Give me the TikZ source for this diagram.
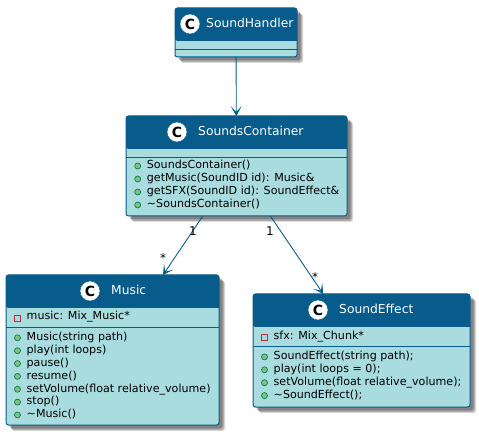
\documentclass[tikz,border=0pt]{standalone}
\usepackage{fontspec}
\setmainfont{DejaVu Sans}
\usetikzlibrary{arrows.meta,shadows}
\definecolor{headblue}{HTML}{075C8B}
\definecolor{bodyteal}{HTML}{A9DCDF}
\definecolor{dotgreen}{HTML}{84BE84}
\definecolor{dotedge}{HTML}{038048}
\definecolor{privred}{HTML}{C82930}

\begin{document}
\begin{tikzpicture}[
    x=1pt, y=-1pt,
    classbox/.style={rectangle, draw=headblue, fill=bodyteal, line width=1pt, rounded corners=2.5pt, inner sep=0pt, outer sep=0pt,
        drop shadow={shadow xshift=6pt, shadow yshift=-6pt, fill=black, opacity=0.15},
        drop shadow={shadow xshift=5pt, shadow yshift=-5pt, fill=black, opacity=0.2},
        drop shadow={shadow xshift=3.5pt, shadow yshift=-3.5pt, fill=black, opacity=0.25}},
    headfill/.style={path picture={\fill[headblue] (path picture bounding box.north west) rectangle ++(300,#1);}},
    sepline/.style={draw=headblue, line width=0.8pt},
    spot/.style={circle, fill=white, draw=headblue, line width=0.5pt, minimum size=20pt, inner sep=0pt, font=\fontsize{14}{14}\selectfont\bfseries},
    titletext/.style={anchor=west, inner sep=0pt, text=white, font=\fontsize{12.3}{14}\selectfont, text height=9.5pt, text depth=2.5pt},
    member/.style={anchor=west, inner sep=0pt, font=\fontsize{11.1}{13}\selectfont, text height=8pt, text depth=2.5pt},
    pubdot/.style={circle, fill=dotgreen, draw=dotedge, line width=0.7pt, minimum size=6pt, inner sep=0pt},
    privbox/.style={rectangle, draw=privred, line width=0.8pt, minimum size=6pt, inner sep=0pt},
    assoc/.style={draw=headblue, line width=0.9pt, -{Stealth[length=10pt,width=11pt,inset=6pt]}},
    multi/.style={inner sep=0pt, font=\fontsize{12}{13}\selectfont}
]
    \useasboundingbox (0,0) rectangle (479,435);

    % class bodies
    \node[classbox, headfill=33, minimum width=122pt, minimum height=49pt] (sh) at (236,32.5) {};
    \node[classbox, headfill=33, minimum width=221pt, minimum height=100pt] (sc) at (236.5,166) {};
    \node[classbox, headfill=33, minimum width=213pt, minimum height=150pt] (mu) at (112.5,350) {};
    \node[classbox, headfill=33, minimum width=217pt, minimum height=113pt] (se) at (361.5,350.5) {};

    % compartments
    \draw[sepline] (sh.west |- 0,49) -- (sh.east |- 0,49);
    \draw[sepline] (sc.west |- 0,157) -- (sc.east |- 0,157);
    \draw[sepline] (mu.west |- 0,327) -- (mu.east |- 0,327);
    \draw[sepline] (se.west |- 0,346) -- (se.east |- 0,346);

    % titles
    \node[spot] (shc) at (190,24) {C};
    \node[titletext] (sht) at (206,24) {SoundHandler};
    \node[spot] (scc) at (177,132) {C};
    \node[titletext] (sct) at (198,132) {SoundsContainer};
    \node[spot] (muc) at (90,291) {C};
    \node[titletext] (mut) at (111,291) {Music};
    \node[spot] (sec) at (318,310) {C};
    \node[titletext] (set) at (339,310) {SoundEffect};

    % members
    \foreach \txt [count=\i] in {SoundsContainer(), getMusic(SoundID id): Music\&, getSFX(SoundID id): SoundEffect\&, \textasciitilde SoundsContainer()} {
        \node[pubdot] (scd\i) at (137.7,153+13*\i) {};
        \node[member] (scm\i) at (146.7,153+13*\i) {\txt};
    }

    \node[privbox] (mup) at (17.5,318) {};
    \node[member] (muf) at (26.5,317) {music: Mix\_Music*};
    \foreach \txt [count=\i] in {Music(string path), play(int loops), pause(), resume(), setVolume(float relative\_volume), stop(), \textasciitilde Music()} {
        \node[pubdot] (mud\i) at (17.5,325+12.85*\i) {};
        \node[member] (mum\i) at (26.5,325+12.85*\i) {\txt};
    }

    \node[privbox] (sep) at (264.5,337) {};
    \node[member] (sef) at (273.5,337) {sfx: Mix\_Chunk*};
    \foreach \txt [count=\i] in {SoundEffect(string path);, play(int loops = 0);, setVolume(float relative\_volume);, \textasciitilde SoundEffect();} {
        \node[pubdot] (sed\i) at (264.5,344+12.9*\i) {};
        \node[member] (sem\i) at (273.5,344+12.9*\i) {\txt};
    }

    % associations
    \draw[assoc] (sh) -- (sc);
    \draw[assoc] (sc) -- (mu);
    \draw[assoc] (sc) -- (se);

    \node[multi] (l1) at (193,231) {1};
    \node[multi] (l2) at (163,258) {*};
    \node[multi] (l3) at (270,231) {1};
    \node[multi] (l4) at (315,277) {*};
\end{tikzpicture}
\end{document}
